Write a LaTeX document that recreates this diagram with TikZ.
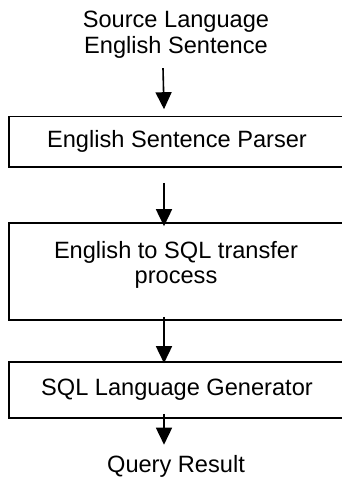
\documentclass[tikz,border=0pt]{standalone}
\usepackage{fontspec}
\setmainfont{Liberation Sans}
\usetikzlibrary{arrows.meta}
\tikzset{
  boxnode/.style={draw=black, line width=1.6pt, minimum width=336pt, inner sep=0pt, align=center},
  lbl/.style={inner sep=0pt, align=center},
  arr/.style={line width=1.6pt, -{Triangle[width=16pt,length=17pt]}},
}
\begin{document}
\begin{tikzpicture}[x=1pt,y=-1pt,font=\fontsize{23.6}{25.5}\selectfont]
\useasboundingbox (0,0) rectangle (342,488);
\clip (0,0) rectangle (342,488);
\fill[white] (0,0) rectangle (342,488);
\node[lbl] (src) at (176,34.5) {Source Language\\English Sentence};
\node[boxnode, minimum height=50.5pt] (b1) at (177,141.75) {English Sentence Parser};
\node[boxnode, minimum height=97pt] (b2) at (177,271.5) {};
\node[lbl] (b2t) at (176,265) {English to SQL transfer\\process};
\node[boxnode, minimum height=56pt] (b3) at (177,390) {SQL Language Generator};
\node[lbl, anchor=base] (res) at (176,472) {Query Result};
\draw[arr] ([xshift=-13pt,yshift=-10pt]src.south) -- ([xshift=-13pt,yshift=6.5pt]b1.north);
\draw[arr] ([xshift=-13pt,yshift=-15pt]b1.south) -- ([xshift=-13pt,yshift=-4pt]b2.north);
\draw[arr] ([xshift=-13pt,yshift=4pt]b2.south) -- ([xshift=-13pt,yshift=-2pt]b3.north);
\draw[arr] ([xshift=-13pt,yshift=5pt]b3.south) -- ([xshift=-12pt,yshift=10pt]res.north);
\end{tikzpicture}
\end{document}
